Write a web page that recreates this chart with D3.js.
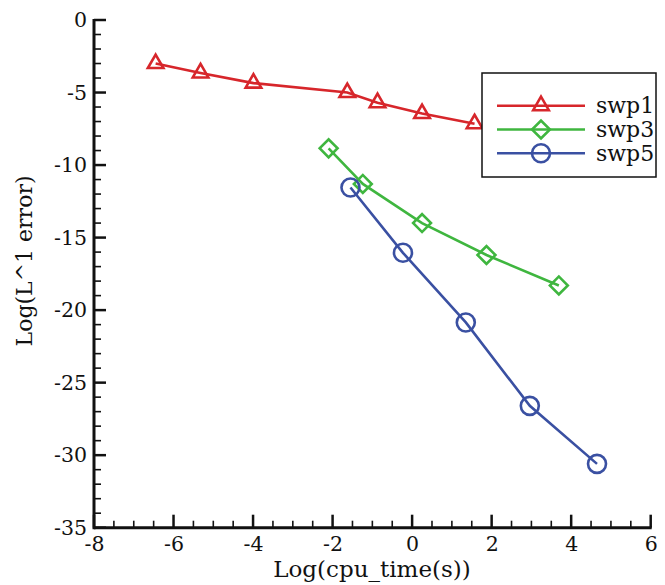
<!DOCTYPE html>
<html>
<head>
<meta charset="utf-8">
<script src="https://cdn.jsdelivr.net/npm/d3@7"></script>
<style>
  body { margin: 0; background: #fff; }
  svg text { font-family: "DejaVu Serif", serif; fill: #111; }
</style>
</head>
<body>
<div class="container"></div>
<script>
// series values
const swp1X = [-6.45, -5.32, -3.99, -1.63, -0.87, 0.25, 1.57];
const swp1Y = [-3.0, -3.65, -4.35, -5.0, -5.7, -6.45, -7.15];
const swp3X = [-2.10, -1.24, 0.25, 1.87, 3.69];
const swp3Y = [-8.85, -11.3, -14.0, -16.2, -18.3];
const swp5X = [-1.55, -0.23, 1.35, 2.96, 4.65];
const swp5Y = [-11.55, -16.05, -20.85, -26.6, -30.6];
const seriesNames = ['swp1', 'swp3', 'swp5'];
const xTicks = [-8, -6, -4, -2, 0, 2, 4, 6];
const yTicks = [-35, -30, -25, -20, -15, -10, -5, 0];
const xTitle = 'Log(cpu_time(s))';
const yTitle = 'Log(L^1 error)';

const w = 665, h = 585;
const colors = ['#d7262b', '#3fb63f', '#3a50a2'];
const shapes = ['triangle', 'diamond', 'circle'];

const xScale = d3.scaleLinear().domain([-8, 6]).range([94, 650.7]);
const yScale = d3.scaleLinear().domain([-35, 0]).range([527.7, 20]);

const series = [
    { name: seriesNames[0], pts: swp1X.map((x, i) => [x, swp1Y[i]]) },
    { name: seriesNames[1], pts: swp3X.map((x, i) => [x, swp3Y[i]]) },
    { name: seriesNames[2], pts: swp5X.map((x, i) => [x, swp5Y[i]]) }
];

const svg = d3.select('div.container')
    .append('svg')
    .attr('width', w)
    .attr('height', h);

// draws a marker of given kind at (0,0) inside g
const drawMarker = (g, kind, color) => {
    if (kind === 'circle') {
        g.append('circle').attr('r', 9);
    } else if (kind === 'diamond') {
        g.append('path')
            .attr('d', d3.symbol(d3.symbolSquare, 160)())
            .attr('transform', 'rotate(45)');
    } else {
        g.append('path').attr('d', d3.symbol(d3.symbolTriangle, 105)());
    }
    g.selectAll('*')
        .attr('fill', 'none')
        .attr('stroke', color)
        .attr('stroke-width', 2.6);
};

// axes
const xAxis = d3.axisBottom(xScale).tickValues(xTicks).tickSize(0).tickPadding(9)
    .tickFormat(d => String(d));
const yAxis = d3.axisLeft(yScale).tickValues(yTicks).tickSize(0).tickPadding(7)
    .tickFormat(d => String(d));

const gx = svg.append('g')
    .attr('id', 'x-axis')
    .attr('transform', 'translate(0,' + yScale(-35) + ')')
    .call(xAxis);
const gy = svg.append('g')
    .attr('id', 'y-axis')
    .attr('transform', 'translate(' + xScale(-8) + ',0)')
    .call(yAxis);

[gx, gy].forEach(g => {
    g.select('.domain').remove();
    g.selectAll('text').attr('font-size', 20.5).attr('font-family', '"DejaVu Serif", serif').attr('fill', '#111');
});
gx.selectAll('text').attr('dy', '0.71em');

// inward ticks, majors and minors
const xMinor = d3.range(-8, 6.01, 0.5);
const yMinor = d3.range(-35, 0.01, 1);
svg.append('g').selectAll('line')
    .data(xMinor)
    .enter()
    .append('line')
    .attr('x1', d => xScale(d)).attr('x2', d => xScale(d))
    .attr('y1', yScale(-35))
    .attr('y2', d => yScale(-35) - (d % 2 === 0 ? 13 : 7))
    .attr('stroke', '#111')
    .attr('stroke-width', d => d % 2 === 0 ? 2.5 : 1.6);
svg.append('g').selectAll('line')
    .data(yMinor)
    .enter()
    .append('line')
    .attr('y1', d => yScale(d)).attr('y2', d => yScale(d))
    .attr('x1', xScale(-8))
    .attr('x2', d => xScale(-8) + (d % 5 === 0 ? 12 : 7))
    .attr('stroke', '#111')
    .attr('stroke-width', d => d % 5 === 0 ? 2.5 : 1.6);

svg.append('line')
    .attr('x1', xScale(-8)).attr('x2', xScale(6) + 1)
    .attr('y1', yScale(-35)).attr('y2', yScale(-35))
    .attr('stroke', '#111').attr('stroke-width', 3);
svg.append('line')
    .attr('x1', xScale(-8)).attr('x2', xScale(-8))
    .attr('y1', yScale(0) - 1).attr('y2', yScale(-35) + 1.5)
    .attr('stroke', '#111').attr('stroke-width', 3);

// axis titles
svg.append('text')
    .text(xTitle)
    .attr('x', 372)
    .attr('y', 577)
    .attr('text-anchor', 'middle')
    .attr('font-size', 23);
svg.append('text')
    .text(yTitle)
    .attr('transform', 'translate(32,261) rotate(-90)')
    .attr('text-anchor', 'middle')
    .attr('font-size', 22);

// series
const line = d3.line().x(d => xScale(d[0])).y(d => yScale(d[1]));
series.forEach((s, i) => {
    svg.append('path')
        .datum(s.pts)
        .attr('d', line)
        .attr('fill', 'none')
        .attr('stroke', colors[i])
        .attr('stroke-width', 2.6);
    svg.append('g')
        .selectAll('g')
        .data(s.pts)
        .enter()
        .append('g')
        .attr('transform', d => 'translate(' + xScale(d[0]) + ',' + yScale(d[1]) + ')')
        .each(function () { drawMarker(d3.select(this), shapes[i], colors[i]); });
});

// legend
const leg = svg.append('g').attr('id', 'legend');
leg.append('rect')
    .attr('x', 482).attr('y', 73)
    .attr('width', 174).attr('height', 104)
    .attr('fill', '#fff')
    .attr('stroke', '#111')
    .attr('stroke-width', 1.5);
seriesNames.forEach((name, i) => {
    const cy = 105.7 + i * 23.8;
    leg.append('line')
        .attr('x1', 497).attr('x2', 585)
        .attr('y1', cy).attr('y2', cy)
        .attr('stroke', colors[i])
        .attr('stroke-width', 2.6);
    drawMarker(leg.append('g').attr('transform', 'translate(541,' + cy + ')'), shapes[i], colors[i]);
    leg.append('text')
        .text(name)
        .attr('x', 596)
        .attr('y', cy)
        .attr('dy', '0.35em')
        .attr('font-size', 22);
});
</script>
</body>
</html>
